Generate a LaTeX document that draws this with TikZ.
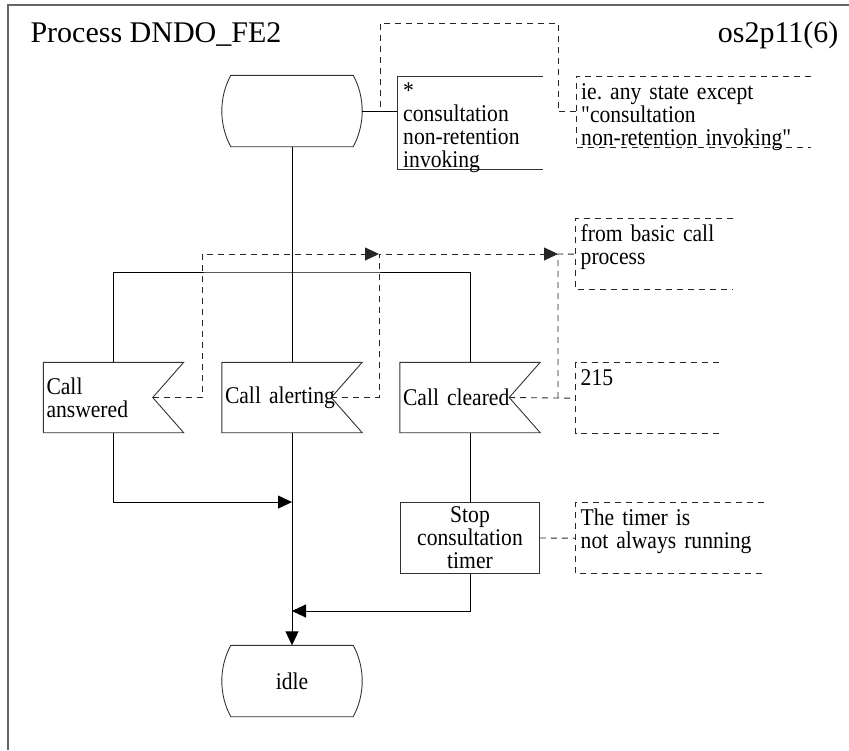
\documentclass[tikz,border=0pt]{standalone}
\usepackage{fontspec}
\setmainfont{Liberation Serif}
\newfontfamily\sdlfamily{Liberation Serif}[FakeStretch=0.9]
\usepackage{tikz}
\usetikzlibrary{arrows.meta}
\newcommand{\sdlfont}{\sdlfamily\fontsize{24}{23}\selectfont\frenchspacing}
\newcommand{\headfont}{\fontsize{30}{32}\selectfont}
\tikzset{
  frameline/.style={draw=black!60,line width=1.2pt},
  shapeline/.style={draw=black!80,line width=0.9pt},
  flowline/.style={draw=black,line width=0.9pt},
  flowarrow/.style={flowline,-{Triangle[length=14pt,width=13pt]}},
  dashline/.style={draw=black!85,line width=0.9pt,dash pattern=on 6pt off 5pt},
  dasharrow/.style={dashline,-{Triangle[length=14pt,width=13pt]}},
  sdlstate/.style={minimum width=140pt,minimum height=71pt,inner sep=0pt,font=\sdlfont,
    append after command={\pgfextra{\draw[shapeline]
      ([xshift=9pt]\tikzlastnode.north west) -- ([xshift=-9pt]\tikzlastnode.north east)
      .. controls ([shift={(3pt,-22pt)}]\tikzlastnode.north east) and ([shift={(3pt,22pt)}]\tikzlastnode.south east) .. ([xshift=-9pt]\tikzlastnode.south east)
      -- ([xshift=9pt]\tikzlastnode.south west)
      .. controls ([shift={(-3pt,22pt)}]\tikzlastnode.south west) and ([shift={(-3pt,-22pt)}]\tikzlastnode.north west) .. ([xshift=9pt]\tikzlastnode.north west)
      -- cycle;}}},
  sdlinput/.style={minimum width=140pt,minimum height=70pt,inner xsep=3pt,inner ysep=0pt,
    text width=134pt,align=left,font=\sdlfont,
    append after command={\pgfextra{\draw[shapeline]
      (\tikzlastnode.north west) -- (\tikzlastnode.north east) -- ([xshift=-31pt]\tikzlastnode.east)
      -- (\tikzlastnode.south east) -- (\tikzlastnode.south west) -- cycle;}}},
  sdltask/.style={shapeline,minimum width=139pt,minimum height=71pt,inner sep=1pt,
    align=center,font=\sdlfont},
  txtbox/.style={anchor=north west,inner xsep=6pt,inner ysep=2pt,text width=134pt,
    text height=20pt,text depth=69pt,align=left,font=\sdlfont,
    append after command={\pgfextra{\draw[shapeline]
      (\tikzlastnode.north east) -- (\tikzlastnode.north west)
      -- (\tikzlastnode.south west) -- (\tikzlastnode.south east);}}},
  cmtbox/.style={anchor=north west,inner xsep=5pt,inner ysep=2pt,
    text height=21pt,text depth=46pt,align=left,font=\sdlfont,
    append after command={\pgfextra{\draw[dashline]
      (\tikzlastnode.north east) -- (\tikzlastnode.north west)
      -- (\tikzlastnode.south west) -- (\tikzlastnode.south east);}}},
}
\begin{document}
\begin{tikzpicture}[x=1pt,y=-1pt]
  \useasboundingbox (0,0) rectangle (849,750);
  \draw[frameline] (8,750) -- (8,5) -- (849,5);
  \node[anchor=base west,font=\headfont] (title) at (27,42) {Process DNDO\_FE2};
  \node[anchor=base east,font=\headfont] (pagenum) at (842,42) {os2p11(6)};

  \node[sdlstate] (start) at (292,111) {};
  \node[txtbox] (txt) at (397,76) {*\\consultation\\non-retention\\invoking};
  \node[cmtbox,text width=225pt] (cmtany) at (576,76) {ie. any state except\\"consultation\\non-retention invoking"};

  \node[sdlinput] (ans) at (113.5,397.5) {Call\\answered};
  \node[sdlinput] (alt) at (292,397.5) {Call alerting};
  \node[sdlinput] (clr) at (470,397.5) {Call cleared};
  \node[cmtbox,text width=147pt] (cmtbasic) at (575.5,218.5) {from basic call\\process};
  \node[cmtbox,text width=133pt] (cmtref) at (575.5,362.5) {215};

  \node[sdltask] (stop) at (470,538) {Stop\\consultation\\timer};
  \node[cmtbox,text width=178pt] (cmttimer) at (575.5,502.5) {The timer is\\not always running};

  \node[sdlstate] (idle) at (292,681) {idle};

  \coordinate (bus) at (292,272);
  \coordinate (tj) at (380,107);
  \coordinate (jalt) at (379,254);
  \coordinate (jbasic) at (558,254);
  \coordinate (merge) at (292,611);

  \draw[flowline] (start.east) -- (start.east -| txt.west);
  \draw[flowline] (start.south) -- (alt.north);
  \draw[flowline] (ans.north) |- (bus) -| (clr.north);
  \draw[flowarrow] (ans.south) |- (alt.south |- stop.north);
  \draw[flowarrow] (alt.south) -- (idle.north);
  \draw[flowline] (clr.south) -- (stop.north);
  \draw[flowarrow] (stop.south) |- (merge);

  \draw[dashline] (tj) |- (558,23) |- (cmtany.west);
  \draw[dasharrow] ([xshift=-31pt]ans.east) -| (202,254) -- (jalt);
  \draw[dasharrow] ([xshift=-31pt]alt.east) -| (jalt) -- (jbasic);
  \draw[dashline] ([xshift=-31pt]clr.east) -- (cmtref.west);
  \draw[dashline] (cmtref.west -| jbasic) -- (jbasic) -- (cmtbasic.west);
  \draw[dashline] (stop.east) -- (cmttimer.west);
\end{tikzpicture}
\end{document}
